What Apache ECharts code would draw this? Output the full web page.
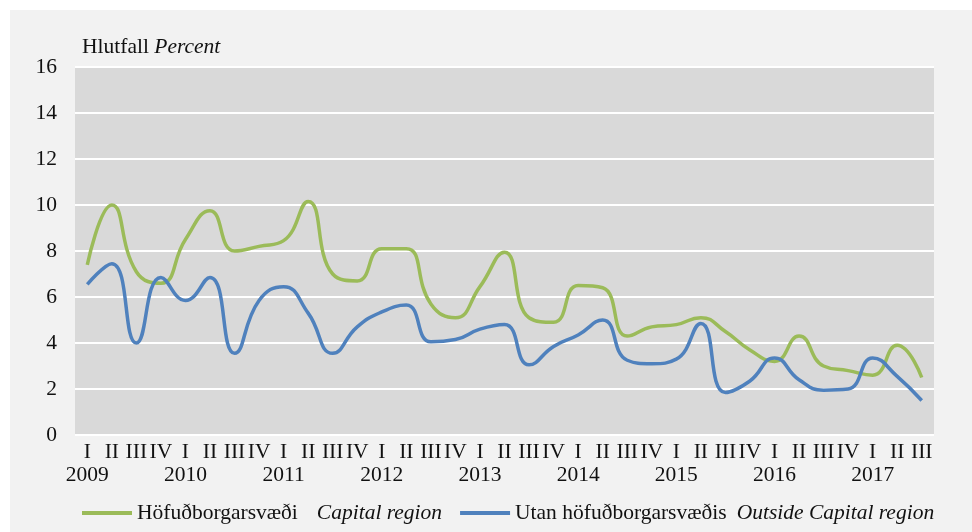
<!DOCTYPE html>
<html>
<head>
<meta charset="utf-8">
<script src="https://cdn.jsdelivr.net/npm/echarts@6/dist/echarts.min.js"></script>
<style>
  html, body { margin: 0; padding: 0; background: #ffffff; }
  #chart { width: 972px; height: 532px; }
</style>
</head>
<body>
<div id="chart"></div>
<script>
// ársfjórðungar 2009 I - 2017 III
var years = ['2009', '2010', '2011', '2012', '2013', '2014', '2015', '2016', '2017'];
var quarters = ['I', 'II', 'III', 'IV'];
var categories = [];
years.forEach(function (y) {
  quarters.forEach(function (q) {
    categories.push(q === 'I' ? q + '\n' + y : q);
  });
});
categories = categories.slice(0, 35);

var capitalRegion = [
  7.4, 10.0, 7.1, 6.6, 8.5, 9.75, 8.0, 8.2, 8.45,
  10.15, 7.0, 6.7, 8.1, 8.1, 5.7, 5.1, 6.45, 7.95,
  5.1, 4.9, 6.5, 6.4, 4.3, 4.7, 4.8, 5.1, 4.5,
  3.7, 3.2, 4.3, 3.0, 2.8, 2.6, 3.9, 2.5
];
var outsideCapital = [
  6.55, 7.45, 4.0, 6.85, 5.85, 6.85, 3.55, 5.85, 6.45,
  5.3, 3.55, 4.7, 5.35, 5.65, 4.05, 4.15, 4.6, 4.8,
  3.05, 3.85, 4.35, 5.0, 3.25, 3.1, 3.3, 4.85, 1.85,
  2.35, 3.35, 2.4, 1.95, 2.0, 3.35, 2.55, 1.5
];

var font = 'Liberation Serif';
var fs = 21.5;
var txt = '#111111';

var myChart = echarts.init(document.getElementById('chart'));
var option = {
  backgroundColor: '#ffffff',
  animation: false,
  graphic: [{
    type: 'rect',
    z: -10,
    shape: { x: 10, y: 10, width: 962, height: 522 },
    style: { fill: '#f2f2f2' }
  }],
  title: {
    text: 'Hlutfall {i|Percent}',
    left: 77,
    top: 31,
    textStyle: {
      fontFamily: font,
      fontSize: fs,
      fontWeight: 'normal',
      color: txt,
      rich: {
        i: { fontFamily: font, fontSize: fs, fontStyle: 'italic', color: txt }
      }
    }
  },
  legend: {
    left: 82,
    top: 502,
    padding: 0,
    itemGap: 18,
    itemWidth: 50,
    itemHeight: 4,
    icon: 'rect',
    data: ['Höfuðborgarsvæði', 'Utan höfuðborgarsvæðis'],
    formatter: function (name) {
      if (name === 'Höfuðborgarsvæði') return name + '{i|Capital region}';
      return name + '{j|Outside Capital region}';
    },
    textStyle: {
      fontFamily: font,
      fontSize: fs,
      color: txt,
      rich: {
        i: { fontFamily: font, fontSize: fs, fontStyle: 'italic', color: txt, padding: [0, 0, 0, 19] },
        j: { fontFamily: font, fontSize: fs, fontStyle: 'italic', color: txt, padding: [0, 0, 0, 10] }
      }
    }
  },
  grid: {
    left: 75,
    top: 67,
    right: 38,
    bottom: 97,
    show: true,
    backgroundColor: '#d9d9d9',
    borderWidth: 0
  },
  xAxis: {
    type: 'category',
    data: categories,
    boundaryGap: true,
    axisLine: { show: false },
    axisTick: { show: false },
    axisLabel: {
      interval: 0,
      margin: 6,
      fontFamily: font,
      fontSize: fs,
      lineHeight: 23,
      color: txt
    }
  },
  yAxis: {
    type: 'value',
    min: 0,
    max: 16,
    interval: 2,
    axisLine: { show: false },
    axisTick: { show: false },
    axisLabel: {
      margin: 18,
      fontFamily: font,
      fontSize: fs,
      color: txt
    },
    splitLine: { lineStyle: { color: '#ffffff', width: 2 } }
  },
  series: [
    {
      name: 'Höfuðborgarsvæði',
      type: 'line',
      data: capitalRegion,
      smooth: 0.5,
      showSymbol: false,
      lineStyle: { color: '#9bbb59', width: 3.5 },
      itemStyle: { color: '#9bbb59' }
    },
    {
      name: 'Utan höfuðborgarsvæðis',
      type: 'line',
      data: outsideCapital,
      smooth: 0.5,
      showSymbol: false,
      lineStyle: { color: '#4f81bd', width: 3.5 },
      itemStyle: { color: '#4f81bd' }
    }
  ]
};
myChart.setOption(option);
</script>
</body>
</html>
